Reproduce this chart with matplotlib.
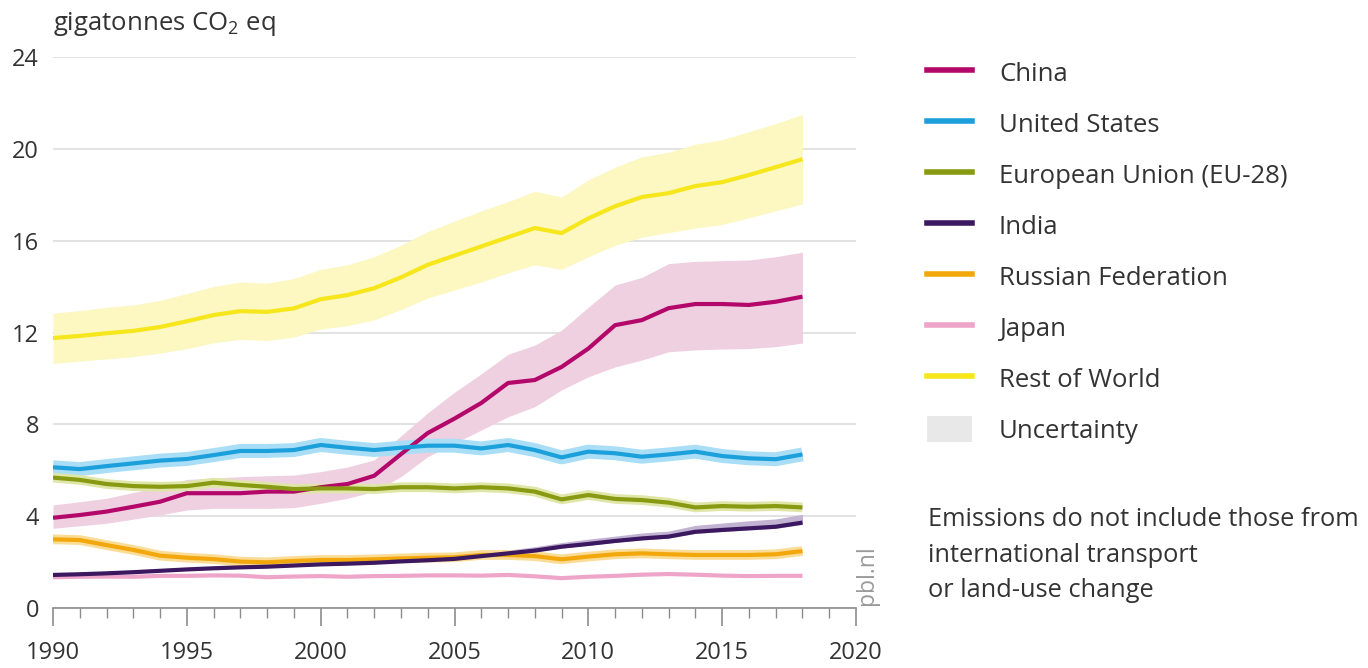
import matplotlib
matplotlib.use('Agg')
import matplotlib.pyplot as plt
from matplotlib.lines import Line2D
from matplotlib.patches import Patch
from matplotlib.ticker import MultipleLocator

plt.rcParams['font.family'] = ['Open Sans', 'DejaVu Sans']
plt.rcParams['mathtext.fontset'] = 'custom'
plt.rcParams['mathtext.rm'] = 'Open Sans'

# Datos (gigatoneladas CO2 eq)
years = list(range(1990, 2019))

china = [3.93, 4.05, 4.20, 4.41, 4.63, 5.00, 5.00, 5.00, 5.07, 5.07, 5.26, 5.40, 5.76, 6.70, 7.62,
         8.25, 8.93, 9.80, 9.93, 10.50, 11.30, 12.32, 12.54, 13.06, 13.24, 13.24, 13.20, 13.34, 13.56]
china_low = [3.47, 3.58, 3.69, 3.87, 4.05, 4.27, 4.34, 4.34, 4.34, 4.37, 4.56, 4.78, 5.07, 5.72, 6.59,
             7.18, 7.75, 8.33, 8.77, 9.50, 10.07, 10.50, 10.80, 11.16, 11.24, 11.28, 11.30, 11.38, 11.54]
china_high = [4.49, 4.63, 4.78, 5.03, 5.28, 5.60, 5.66, 5.72, 5.76, 5.79, 5.94, 6.14, 6.45, 7.50, 8.50,
              9.40, 10.20, 11.05, 11.45, 12.10, 13.10, 14.07, 14.40, 15.00, 15.10, 15.13, 15.16, 15.30, 15.50]

united_states = [6.13, 6.05, 6.18, 6.30, 6.42, 6.49, 6.66, 6.84, 6.84, 6.88, 7.10, 6.98, 6.88, 6.98, 7.07,
                 7.07, 6.95, 7.10, 6.88, 6.56, 6.81, 6.74, 6.59, 6.69, 6.81, 6.62, 6.52, 6.48, 6.69]

eu28 = [5.68, 5.58, 5.40, 5.31, 5.28, 5.31, 5.46, 5.36, 5.28, 5.18, 5.21, 5.21, 5.18, 5.26, 5.26,
        5.21, 5.26, 5.21, 5.07, 4.73, 4.92, 4.75, 4.70, 4.59, 4.38, 4.44, 4.41, 4.44, 4.38]

india = [1.44, 1.47, 1.51, 1.56, 1.62, 1.68, 1.73, 1.77, 1.80, 1.85, 1.90, 1.93, 1.97, 2.03, 2.08,
         2.14, 2.26, 2.38, 2.50, 2.67, 2.79, 2.92, 3.03, 3.11, 3.32, 3.40, 3.47, 3.54, 3.72]
india_low = [1.40, 1.43, 1.47, 1.52, 1.58, 1.64, 1.69, 1.73, 1.76, 1.81, 1.86, 1.89, 1.93, 1.99, 2.04,
             2.10, 2.21, 2.33, 2.45, 2.61, 2.73, 2.86, 2.97, 3.05, 3.25, 3.33, 3.40, 3.47, 3.64]
india_high = [1.48, 1.51, 1.55, 1.60, 1.66, 1.72, 1.77, 1.81, 1.85, 1.90, 1.95, 1.99, 2.03, 2.10, 2.16,
              2.22, 2.38, 2.52, 2.67, 2.85, 3.00, 3.13, 3.27, 3.35, 3.60, 3.70, 3.80, 3.88, 4.08]

russia = [2.99, 2.96, 2.74, 2.53, 2.28, 2.19, 2.13, 2.02, 1.99, 2.05, 2.09, 2.09, 2.12, 2.16, 2.19,
          2.21, 2.31, 2.31, 2.26, 2.12, 2.24, 2.34, 2.38, 2.34, 2.31, 2.31, 2.31, 2.34, 2.48]

japan = [1.34, 1.36, 1.37, 1.36, 1.40, 1.40, 1.42, 1.41, 1.34, 1.37, 1.39, 1.36, 1.39, 1.40, 1.42,
         1.42, 1.41, 1.44, 1.38, 1.30, 1.36, 1.40, 1.45, 1.48, 1.45, 1.41, 1.39, 1.40, 1.40]

rest_of_world = [11.76, 11.85, 11.97, 12.07, 12.24, 12.49, 12.76, 12.93, 12.90, 13.05, 13.45, 13.63, 13.93, 14.40, 14.95,
                 15.35, 15.75, 16.15, 16.55, 16.33, 16.97, 17.50, 17.90, 18.07, 18.38, 18.55, 18.86, 19.20, 19.55]
row_low = [10.65, 10.75, 10.85, 10.95, 11.10, 11.30, 11.55, 11.70, 11.65, 11.80, 12.15, 12.30, 12.55, 13.00, 13.50,
           13.85, 14.20, 14.60, 14.95, 14.75, 15.30, 15.80, 16.15, 16.35, 16.55, 16.70, 17.00, 17.30, 17.60]
row_high = [12.85, 12.95, 13.10, 13.20, 13.40, 13.70, 14.00, 14.20, 14.15, 14.35, 14.75, 14.95, 15.30, 15.80, 16.40,
            16.85, 17.30, 17.70, 18.15, 17.90, 18.65, 19.20, 19.65, 19.85, 20.20, 20.40, 20.75, 21.10, 21.50]

labels = ['China', 'United States', 'European Union (EU-28)', 'India',
          'Russian Federation', 'Japan', 'Rest of World']
colors = ['#b3086a', '#1ca0dc', '#879a12', '#3b185f', '#f2a80c', '#eea5c9', '#f6e61c']

txt = '#333333'
fig = plt.figure(figsize=(13.68, 6.68), dpi=100)
ax = fig.add_axes([53 / 1368, 1 - 608 / 668, (856 - 53) / 1368, (608 - 57) / 668])

# Bandas de incertidumbre
ax.fill_between(years, row_low, row_high, color='#fdf7c2', lw=0, zorder=1)
ax.fill_between(years, china_low, china_high, color='#efd0e1', lw=0, zorder=1)
ax.fill_between(years, india_low, india_high, color='#c3b3d3', lw=0, zorder=2)

# Halo fino de incertidumbre
ax.plot(years, united_states, color='#a9def6', lw=10, solid_capstyle='butt', zorder=2)
ax.plot(years, eu28, color='#dfe6a8', lw=7, solid_capstyle='butt', zorder=2)
ax.plot(years, russia, color='#fbdc96', lw=7, solid_capstyle='butt', zorder=2)

series = [china, united_states, eu28, india, russia, japan, rest_of_world]
order = [6, 0, 5, 4, 3, 2, 1]
for i in order:
    ax.plot(years, series[i], color=colors[i], lw=3.0, solid_capstyle='butt', zorder=3)

ax.set_xlim(1990, 2020)
ax.set_ylim(0, 24)
ax.set_yticks(range(0, 25, 4))
ax.xaxis.set_major_locator(MultipleLocator(5))
ax.xaxis.set_minor_locator(MultipleLocator(1))
ax.grid(axis='y', color='#dddddd', lw=1.2)
ax.set_axisbelow(True)
for s in ['top', 'right', 'left']:
    ax.spines[s].set_visible(False)
ax.spines['bottom'].set_color('#8c8c8c')
ax.spines['bottom'].set_linewidth(1.2)
ax.tick_params(axis='x', which='major', length=13, width=1.2, color='#8c8c8c',
               labelsize=17, labelcolor=txt, pad=11)
ax.tick_params(axis='x', which='minor', length=7, width=1.0, color='#8c8c8c')
ax.tick_params(axis='y', length=0, labelsize=17, labelcolor=txt, pad=10)

fig.text(53 / 1368, 1 - 24 / 668, 'gigatonnes CO$_2$ eq', fontsize=18.5, color=txt,
         ha='left', va='center')

fig.text(867 / 1368, 1 - 575 / 668, 'pbl.nl', rotation=90, fontsize=16.5, color='#9a9a9a',
         ha='center', va='center')

handles = [Line2D([], [], color=c, lw=4) for c in colors]
handles.append(Patch(facecolor='#e8e8e8', edgecolor='none'))
fig.legend(handles, labels + ['Uncertainty'], loc='upper left',
           bbox_to_anchor=(927 / 1368, 1 - 59 / 668), frameon=False, fontsize=18.5,
           handlelength=1.75, handleheight=1.2, handletextpad=1.05, labelspacing=0.9,
           borderpad=0, borderaxespad=0, labelcolor=txt)

fig.text(928 / 1368, 1 - 555 / 668,
         'Emissions do not include those from\ninternational transport\nor land-use change',
         fontsize=18.3, color=txt, ha='left', va='center', linespacing=1.53)

fig.savefig('out.png', dpi=100)
